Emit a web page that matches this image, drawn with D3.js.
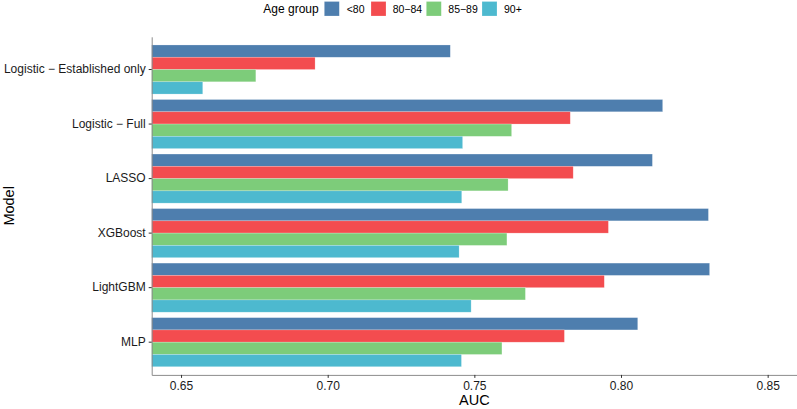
<!DOCTYPE html>
<html>
<head>
<meta charset="utf-8">
<script src="https://cdn.jsdelivr.net/npm/d3@7"></script>
<style>
  html, body { margin: 0; padding: 0; background: #fff; }
  svg { display: block; }
  svg text { font-family: "Liberation Sans", Arial, Helvetica, sans-serif; }
</style>
</head>
<body>
<svg id="chart" width="797" height="409"></svg>
<script>
// ---- data ----
const models = ["Logistic \u2212 Established only", "Logistic \u2212 Full", "LASSO", "XGBoost", "LightGBM", "MLP"];
const ageGroups = ["<80", "80\u221284", "85\u221289", "90+"];
const auc_lt80  = [0.7418, 0.8142, 0.8107, 0.8298, 0.8302, 0.8057];
const auc_80_84 = [0.6957, 0.7827, 0.7837, 0.7957, 0.7943, 0.7807];
const auc_85_89 = [0.6755, 0.7627, 0.7615, 0.7611, 0.7674, 0.7594];
const auc_90p   = [0.6574, 0.7460, 0.7457, 0.7448, 0.7489, 0.7456];
const xTicks = [0.65, 0.70, 0.75, 0.80, 0.85];
const colors = ["#4e7eae", "#f34c4f", "#7dcc7a", "#4db9cf"];

const seriesValues = [auc_lt80, auc_80_84, auc_85_89, auc_90p];
const rows = [];
models.forEach((m, i) => ageGroups.forEach((g, j) => rows.push({model: m, group: g, value: seriesValues[j][i]})));

// ---- layout ----
const FONT = "'Liberation Sans', Arial, Helvetica, sans-serif";
const svg = d3.select("#chart");
const panel = {left: 151.7, right: 797, top: 36.8, bottom: 374.9};

const x = d3.scaleLinear().domain([0.64, 0.86]).range([panel.left, panel.right]).clamp(true);
const y = d3.scaleBand().domain(models).range([panel.top, panel.bottom]).paddingInner(0.1).paddingOuter(0.15);
const yInner = d3.scaleBand().domain(ageGroups).range([0, y.bandwidth()]).padding(0);
const color = d3.scaleOrdinal().domain(ageGroups).range(colors);

// bars
svg.append("g").selectAll("rect").data(rows).join("rect")
  .attr("x", x(0.64))
  .attr("y", d => y(d.model) + yInner(d.group))
  .attr("width", d => x(d.value) - x(0.64))
  .attr("height", yInner.bandwidth())
  .attr("fill", d => color(d.group))
  .attr("stroke", "#ffffff")
  .attr("stroke-opacity", 0.35)
  .attr("stroke-width", 0.6);

// x axis
const xAxis = svg.append("g").attr("transform", `translate(0,${panel.bottom})`)
  .call(d3.axisBottom(x).tickValues(xTicks).tickFormat(d3.format(".2f")).tickSizeInner(3).tickSizeOuter(0).tickPadding(4))
  .attr("font-family", FONT).attr("font-size", 12);
xAxis.select(".domain").attr("stroke", "#8c8c8c").attr("stroke-width", 1);
xAxis.selectAll(".tick line").attr("stroke", "#333");
xAxis.selectAll(".tick text").attr("fill", "#1a1a1a");

// y axis
const yAxis = svg.append("g").attr("transform", `translate(${panel.left},0)`)
  .call(d3.axisLeft(y).tickSizeInner(3).tickSizeOuter(0).tickPadding(3))
  .attr("font-family", FONT).attr("font-size", 12);
yAxis.select(".domain").attr("stroke", "#8c8c8c").attr("stroke-width", 1);
yAxis.selectAll(".tick line").attr("stroke", "#333");
yAxis.selectAll(".tick text").attr("fill", "#1a1a1a");

// axis titles
svg.append("text").attr("x", (panel.left + panel.right) / 2).attr("y", 405)
  .attr("text-anchor", "middle").attr("font-size", 14.5).attr("fill", "#000").text("AUC");
svg.append("text").attr("transform", `translate(13.5,${(panel.top + panel.bottom) / 2}) rotate(-90)`)
  .attr("text-anchor", "middle").attr("font-size", 14.5).attr("fill", "#000").text("Model");

// legend
const legend = svg.append("g");
legend.append("text").attr("x", 263.3).attr("y", 13.3).attr("font-size", 12).attr("fill", "#000").text("Age group");
const keyX = [324.3, 371, 426.3, 482];
const lblX = [346.7, 392.7, 448.3, 504];
ageGroups.forEach((g, i) => {
  legend.append("rect").attr("x", keyX[i]).attr("y", 1.5).attr("width", 15).attr("height", 14.5)
    .attr("fill", color(g)).attr("stroke", "#fff").attr("stroke-opacity", 0.35).attr("stroke-width", 0.6);
  legend.append("text").attr("x", lblX[i]).attr("y", 12.6).attr("font-size", 10.5).attr("fill", "#000").text(g);
});
</script>
</body>
</html>
